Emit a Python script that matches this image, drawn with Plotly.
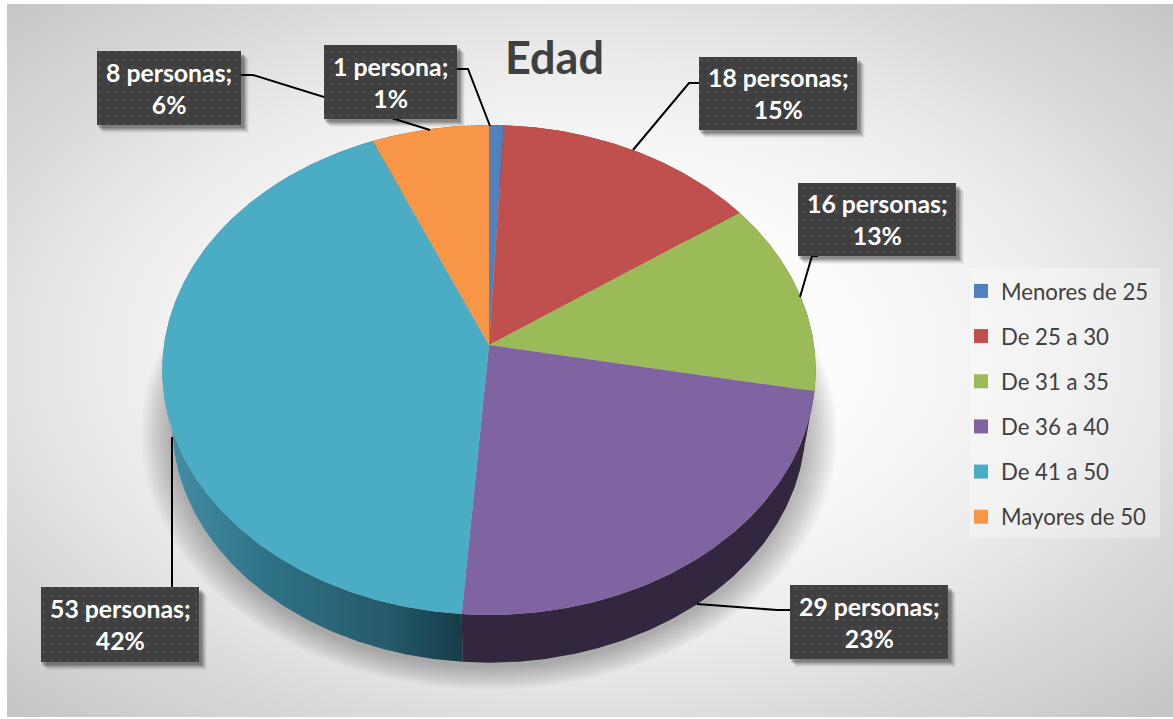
import math
import plotly.graph_objects as go

# ---- data ----
categories = ["Menores de 25", "De 25 a 30", "De 31 a 35", "De 36 a 40", "De 41 a 50", "Mayores de 50"]
personas = [1, 18, 16, 29, 53, 8]
label_text = ["1 persona;<br>1%", "18 personas;<br>15%", "16 personas;<br>13%",
              "29 personas;<br>23%", "53 personas;<br>42%", "8 personas;<br>6%"]
colors = ["#4f81bd", "#c0504d", "#9bbb59", "#8064a2", "#4bacc6", "#f79646"]
title_text = "Edad"

# ---- layout (pixels: the axes map 1:1 to the page) ----
W, H = 1173, 719
CX, CY, RX, RY, K = 489.0, 345.0, 325.0, 242.4, 0.102      # top face projection
BCY, BRX, BRY = 401.0, 315.0, 235.0                         # bottom face projection
label_boxes = [(324, 457, 45, 119), (699, 857, 57, 130), (798, 956, 183, 256),
               (790, 948, 585, 659), (41, 199, 587, 662), (97, 241, 51, 125)]
leaders = [[(457, 69), (468, 69), (490, 126)],
           [(699, 83), (689, 83), (633, 150)],
           [(818, 256), (812, 256), (800, 297)],
           [(790, 610), (777, 610), (697, 604)],
           [(172, 587), (172, 437)],
           [(241, 75), (253, 75), (430, 130)]]
side_colors = ["#2a4a70", "#6e2d2b", "#586b32", "#32273f", None, "#8a5427"]
teal_side_scale = [[0, "#4590a6"], [0.35, "#2f7287"], [0.75, "#255a6b"], [1, "#163c47"]]


def proj(t, cy, rx, ry):
    u, v = math.sin(t), math.cos(t)
    d = 1 + K * v
    return CX + rx * u / d, cy - ry * v / d


def arc(a, b, cy, rx, ry):
    n = max(3, int(abs(b - a) / 0.01))
    pts = [proj(a + (b - a) * i / n, cy, rx, ry) for i in range(n + 1)]
    return pts


fig = go.Figure()
none_kw = dict(mode="lines", line=dict(width=0), hoverinfo="skip", showlegend=False)

# background with radial gradient (oversized so that its corners stay inside the ellipse)
fig.add_trace(go.Scatter(
    x=[-240, 1413, 1413, -240, -240], y=[-140, -140, 850, 850, -140], fill="toself",
    fillgradient=dict(type="radial", colorscale=[[0, "#ffffff"], [0.32, "#fcfcfc"], [0.6, "#ebebeb"],
                                                 [0.74, "#dddddd"], [1, "#c6c6c6"]]),
    **none_kw))

# legend panel
fig.add_trace(go.Scatter(x=[970, 1160, 1160, 970, 970], y=[268, 268, 538, 538, 268], fill="toself",
                         fillcolor="rgba(255,255,255,0.3)", **none_kw))

# soft shadow under the pie
for i in range(12, 0, -1):
    xs, ys = zip(*arc(0, 2 * math.pi, BCY + 3 + 0.4 * i, BRX + 2.6 * i, BRY + 1.4 * i))
    fig.add_trace(go.Scatter(x=xs, y=ys, fill="toself", fillcolor="rgba(0,0,0,0.022)", **none_kw))

# wedges
total = sum(personas)
edges = [0]
for v in personas:
    edges.append(edges[-1] + v / total * 2 * math.pi)

# side walls
for i in range(len(personas)):
    top = arc(edges[i], edges[i + 1], CY, RX, RY)
    bot = arc(edges[i], edges[i + 1], BCY, BRX, BRY)
    pts = top + bot[::-1] + top[:1]
    xs, ys = zip(*pts)
    kw = dict(fillcolor=side_colors[i]) if side_colors[i] else dict(
        fillgradient=dict(type="horizontal", colorscale=teal_side_scale))
    fig.add_trace(go.Scatter(x=xs, y=ys, fill="toself", **kw, **none_kw))

# top faces
for i, name in enumerate(categories):
    pts = [(CX, CY)] + arc(edges[i], edges[i + 1], CY, RX, RY) + [(CX, CY)]
    xs, ys = zip(*pts)
    fig.add_trace(go.Scatter(x=xs, y=ys, fill="toself", fillcolor=colors[i], name=name,
                             mode="lines", line=dict(width=0), hoverinfo="name", showlegend=False))

# leader lines
for pts in leaders:
    xs, ys = zip(*pts)
    fig.add_trace(go.Scatter(x=xs, y=ys, mode="lines", line=dict(color="#000000", width=2),
                             hoverinfo="skip", showlegend=False))

# label boxes with shadow, dotted texture and text
annotations = []
for (x0, x1, y0, y1), txt in zip(label_boxes, label_text):
    for off, a in ((8, 0.04), (7, 0.06), (6, 0.08), (5, 0.10), (4, 0.12), (3, 0.14)):
        fig.add_trace(go.Scatter(x=[x0 + off - 2, x1 + off, x1 + off, x0 + off - 2, x0 + off - 2],
                                 y=[y0 + off, y0 + off, y1 + off, y1 + off, y0 + off], fill="toself",
                                 fillcolor=f"rgba(0,0,0,{a})", **none_kw))
    fig.add_trace(go.Scatter(x=[x0, x1, x1, x0, x0], y=[y0, y0, y1, y1, y0], fill="toself",
                             fillcolor="#404040",
                             fillpattern=dict(shape=".", bgcolor="#3f3f3f", fgcolor="#565656", size=8, solidity=0.15),
                             **none_kw))
    annotations.append(dict(x=(x0 + x1) / 2, y=(y0 + y1) / 2, xref="x", yref="y", text=txt, showarrow=False,
                            font=dict(family="Lato", size=24.8, color="#ffffff", weight="bold"),
                            align="center", xanchor="center", yanchor="middle"))

annotations.append(dict(x=554, y=57, xref="x", yref="y", text=title_text, showarrow=False,
                        font=dict(family="Lato", size=45, color="#404040", weight="bold"),
                        xanchor="center", yanchor="middle"))

# legend entries
for name, c in zip(categories, colors):
    fig.add_trace(go.Scatter(x=[None], y=[None], mode="markers", name=name, legendgroup=name,
                             marker=dict(symbol="square", size=14, color=c)))

# page margins that lie outside the chart area
frame = [(0, 7, 0, H), (0, W, 0, 4), (0, W, 717, H)]
shapes = [dict(type="rect", xref="x", yref="y", x0=a, x1=b, y0=c, y1=d, fillcolor="#ffffff",
               line=dict(width=0), layer="above") for a, b, c, d in frame]

fig.update_layout(
    width=W, height=H, margin=dict(l=0, r=0, t=0, b=0), paper_bgcolor="#ffffff", plot_bgcolor="#ffffff",
    xaxis=dict(range=[0, W], visible=False, fixedrange=True),
    yaxis=dict(range=[H, 0], visible=False, fixedrange=True),
    annotations=annotations, shapes=shapes,
    legend=dict(x=961 / W, y=1 - 270 / H, xanchor="left", yanchor="top",
                font=dict(family="Lato", size=22.2, color="#404040"),
                bgcolor="rgba(0,0,0,0)", tracegroupgap=13.3, itemwidth=30),
    showlegend=True,
)

fig.write_html("out.html", post_script="document.body.style.margin='0';", config={"displayModeBar": False})
